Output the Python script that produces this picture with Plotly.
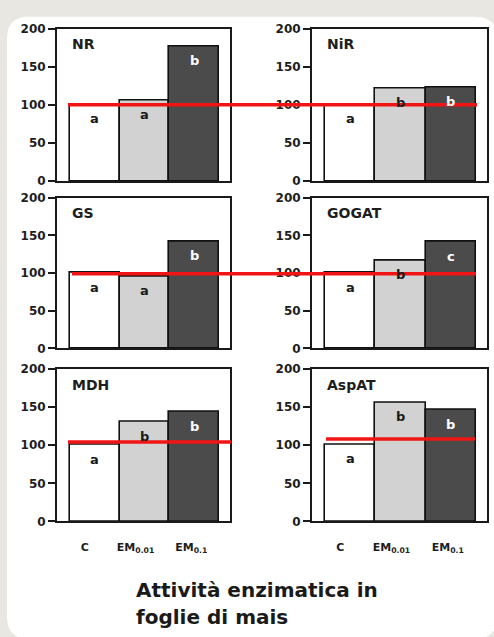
import plotly.graph_objects as go

# ---------------- data ----------------
treatments = ["C", "EM<sub>0.01</sub>", "EM<sub>0.1</sub>"]
enzymes = ["NR", "NiR", "GS", "GOGAT", "MDH", "AspAT"]
NR = [100, 106, 177]
NiR = [100, 121, 123]
GS = [100, 95, 142]
GOGAT = [100, 116, 141]
MDH = [100, 130, 143]
AspAT = [101, 156, 146]
values = [NR, NiR, GS, GOGAT, MDH, AspAT]
letters = [["a", "a", "b"], ["a", "b", "b"], ["a", "a", "b"],
           ["a", "b", "c"], ["a", "b", "b"], ["a", "b", "b"]]
ref_top, ref_mid, ref_mdh, ref_aspat = 100, 99, 104, 108
y_ticks = [0, 50, 100, 150, 200]

# ---------------- style ----------------
W, H = 494, 637
bar_colors = ["#ffffff", "#d2d2d2", "#4b4b4b"]
letter_colors = ["#1a1a1a", "#1a1a1a", "#ffffff"]
FONT = "DejaVu Sans"
INK = "#1e1e1e"

def px_x(p):
    return p / W

def px_y(p):
    return 1 - p / H

col_dom = [(57, 230), (312, 487)]
row_dom = [(22, 178), (195, 349), (370, 526)]

fig = go.Figure()
layout = dict(
    width=W, height=H, margin=dict(l=0, r=0, t=0, b=0),
    paper_bgcolor="#e8e7e1", plot_bgcolor="#ffffff",
    showlegend=False, bargap=0,
    font=dict(family=FONT, color=INK),
)
annotations = []
shapes = []

# card
x0, x1, y0, y1, r = 7, 497, 10, 646, 22
def P(x, y):
    return f"{px_x(x):.5f},{px_y(y):.5f}"
path = (f"M {P(x0 + r, y0)} L {P(x1 - r, y0)} Q {P(x1, y0)} {P(x1, y0 + r)} "
        f"L {P(x1, y1 - r)} Q {P(x1, y1)} {P(x1 - r, y1)} "
        f"L {P(x0 + r, y1)} Q {P(x0, y1)} {P(x0, y1 - r)} "
        f"L {P(x0, y0 + r)} Q {P(x0, y0)} {P(x0 + r, y0)} Z")
shapes.append(dict(type="path", xref="paper", yref="paper", path=path,
                   fillcolor="#ffffff", line=dict(width=0), layer="below"))

for i, (name, vals) in enumerate(zip(enzymes, values)):
    n = i + 1
    row, col = divmod(i, 2)
    xs = "" if n == 1 else str(n)
    fig.add_trace(go.Bar(
        x=[0, 1, 2], y=vals, width=1,
        marker=dict(color=bar_colors, line=dict(color="#111111", width=1.6)),
        xaxis=f"x{xs}", yaxis=f"y{xs}", hoverinfo="skip"))
    cd, rd = col_dom[col], row_dom[row]
    bottom = row == 2
    layout[f"xaxis{xs}"] = dict(
        domain=[px_x(cd[0]), px_x(cd[1])], anchor=f"y{xs}",
        range=[-0.76, 2.72], showgrid=False, zeroline=False,
        showline=True, linecolor="#1a1a1a", linewidth=2, mirror=True,
        ticks="", tickvals=[-0.2, 0.82, 1.94], ticktext=treatments,
        showticklabels=bottom, ticklabelstandoff=14,
        tickfont=dict(family=FONT, size=11, color=INK, weight="bold"),
        fixedrange=True)
    layout[f"yaxis{xs}"] = dict(
        domain=[px_y(rd[1]), px_y(rd[0])], anchor=f"x{xs}",
        range=[0, 200], tickvals=y_ticks, showgrid=False, zeroline=False,
        showline=True, linecolor="#1a1a1a", linewidth=2, mirror=True,
        ticks="outside", ticklen=7, tickwidth=1.5, tickcolor="#1a1a1a",
        tickfont=dict(family=FONT, size=12, color=INK, weight="bold"),
        fixedrange=True)
    # panel label
    annotations.append(dict(
        x=px_x(cd[0] + 13), y=px_y(rd[0] + 16), xref="paper", yref="paper",
        text=name, showarrow=False, xanchor="left", yanchor="middle",
        font=dict(family=FONT, size=14, color=INK, weight="bold")))
    # significance letters
    for k, (v, l) in enumerate(zip(vals, letters[i])):
        annotations.append(dict(
            x=k, y=v, xref=f"x{xs}", yref=f"y{xs}", text=l, showarrow=False,
            yanchor="middle", yshift=-14,
            font=dict(family=FONT, size=13, color=letter_colors[k], weight="bold")))

# red reference lines
red = "#f01414"
shapes.append(dict(type="line", xref="paper", yref="y", x0=px_x(68), x1=px_x(477),
                   y0=ref_top, y1=ref_top, line=dict(color=red, width=3.5)))
shapes.append(dict(type="line", xref="paper", yref="y3", x0=px_x(72), x1=px_x(476),
                   y0=ref_mid, y1=ref_mid, line=dict(color=red, width=3.5)))
shapes.append(dict(type="line", xref="paper", yref="y5", x0=px_x(68), x1=px_x(231),
                   y0=ref_mdh, y1=ref_mdh, line=dict(color=red, width=3.5)))
shapes.append(dict(type="line", xref="paper", yref="y6", x0=px_x(326), x1=px_x(475),
                   y0=ref_aspat, y1=ref_aspat, line=dict(color=red, width=3.5)))

# caption
annotations.append(dict(x=px_x(134), y=px_y(596), xref="paper", yref="paper",
                        text="Attività enzimatica in", showarrow=False,
                        xanchor="left", yanchor="middle",
                        font=dict(family=FONT, size=20, color="#1a1a1a", weight="bold")))
annotations.append(dict(x=px_x(134), y=px_y(624), xref="paper", yref="paper",
                        text="foglie di mais", showarrow=False,
                        xanchor="left", yanchor="middle",
                        font=dict(family=FONT, size=20, color="#1a1a1a", weight="bold")))

layout["annotations"] = annotations
layout["shapes"] = shapes
fig.update_layout(**layout)
fig.write_html(
    "out.html",
    config={"displayModeBar": False},
    post_script="document.body.style.margin='0px';document.body.style.overflow='hidden';",
)
